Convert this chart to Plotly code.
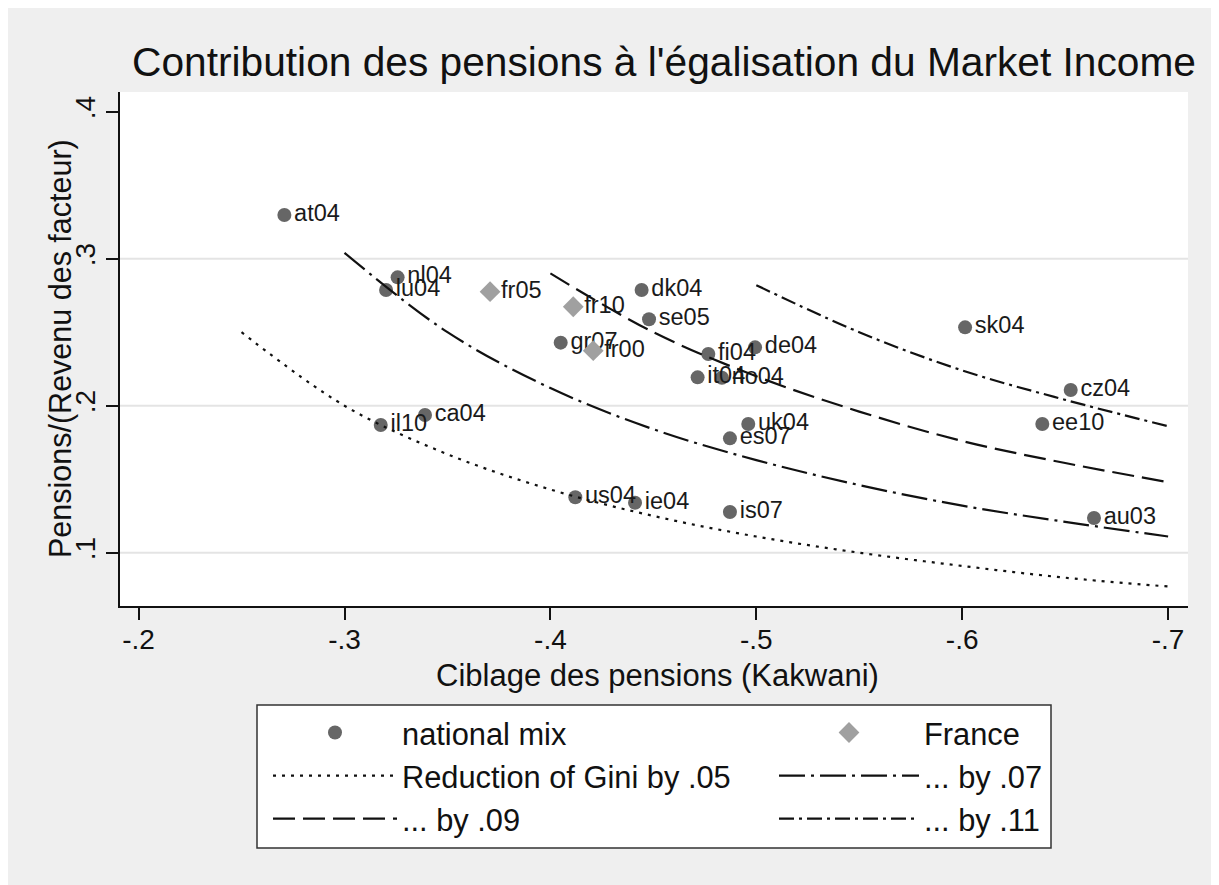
import plotly.graph_objects as go

# ---------------- data ----------------
national_labels = ["at04", "nl04", "lu04", "dk04", "se05", "gr07", "fi04", "de04",
                   "it04", "no04", "uk04", "es07", "is07", "au03", "sk04", "cz04",
                   "ee10", "il10", "ca04", "us04", "ie04"]
national_x = [-0.2708, -0.3258, -0.3202, -0.4443, -0.4479, -0.4050, -0.4767, -0.4994,
              -0.4715, -0.4833, -0.4961, -0.4872, -0.4872, -0.6640, -0.6014, -0.6527,
              -0.6389, -0.3176, -0.3391, -0.4121, -0.4411]
national_y = [0.3297, 0.2873, 0.2787, 0.2787, 0.2588, 0.2429, 0.2352, 0.2397,
              0.2193, 0.2190, 0.1876, 0.1778, 0.1277, 0.1236, 0.2533, 0.2107,
              0.1876, 0.1869, 0.1937, 0.1377, 0.1340]

france_labels = ["fr05", "fr10", "fr00"]
france_x = [-0.3707, -0.4111, -0.4208]
france_y = [0.2776, 0.2673, 0.2374]

# iso-reduction curves
gini05_x = [-0.25, -0.30, -0.35, -0.40, -0.45, -0.50, -0.55, -0.60, -0.65, -0.70]
gini05_y = [0.250, 0.200, 0.167, 0.143, 0.125, 0.111, 0.100, 0.091, 0.083, 0.077]
gini07_x = [-0.30, -0.35, -0.40, -0.45, -0.50, -0.55, -0.60, -0.65, -0.70]
gini07_y = [0.304, 0.250, 0.212, 0.184, 0.163, 0.146, 0.132, 0.121, 0.111]
gini09_x = [-0.40, -0.45, -0.50, -0.55, -0.60, -0.65, -0.70]
gini09_y = [0.290, 0.250, 0.220, 0.196, 0.176, 0.161, 0.148]
gini11_x = [-0.50, -0.55, -0.60, -0.65, -0.70]
gini11_y = [0.282, 0.250, 0.224, 0.204, 0.186]

x_ticks = [-0.2, -0.3, -0.4, -0.5, -0.6, -0.7]
x_ticklabels = ["-.2", "-.3", "-.4", "-.5", "-.6", "-.7"]
y_ticks = [0.1, 0.2, 0.3, 0.4]
y_ticklabels = [".1", ".2", ".3", ".4"]
grid_levels = [0.1, 0.2, 0.3]

# ---------------- figure ----------------
FONT = "Liberation Sans, Arial, sans-serif"
W, H = 1219, 885
OFF = 8  # page body margin
ML, MR, MT, MB = 112, 39, 84, 287
PW, PH = W - ML - MR, H - MT - MB


def fx(page_x):  # page px -> figure px
    return page_x - OFF


def px2paper_x(page_x):
    return (fx(page_x) - ML) / PW


def px2paper_y(page_y):
    return (H - MB - fx(page_y)) / PH


fig = go.Figure()

fig.add_trace(go.Scatter(
    x=national_x, y=national_y, mode="markers+text", text=national_labels,
    textposition="middle right", textfont=dict(size=23.5, color="#1a1a1a", family=FONT),
    marker=dict(symbol="circle", size=14, color="#666666", line=dict(width=0)),
    name="national mix", legend="legend", legendrank=1, cliponaxis=False))

fig.add_trace(go.Scatter(
    x=france_x, y=france_y, mode="markers+text", text=france_labels,
    textposition="middle right", textfont=dict(size=23.5, color="#1a1a1a", family=FONT),
    marker=dict(symbol="diamond", size=16, color="#a0a0a0", line=dict(width=0)),
    name="France", legend="legend2", legendrank=2, cliponaxis=False))

line_w = 2.2
fig.add_trace(go.Scatter(
    x=gini05_x, y=gini05_y, mode="lines", line=dict(color="#111111", width=line_w,
                                                    dash="3px,6px", shape="spline"),
    name="Reduction of Gini by .05", legend="legend", legendrank=3))
fig.add_trace(go.Scatter(
    x=gini07_x, y=gini07_y, mode="lines", line=dict(color="#111111", width=line_w,
                                                    dash="26px,6px,3px,6px", shape="spline"),
    name="... by .07", legend="legend2", legendrank=4))
fig.add_trace(go.Scatter(
    x=gini09_x, y=gini09_y, mode="lines", line=dict(color="#111111", width=line_w,
                                                    dash="22px,8px", shape="spline"),
    name="... by .09", legend="legend", legendrank=5))
fig.add_trace(go.Scatter(
    x=gini11_x, y=gini11_y, mode="lines", line=dict(color="#111111", width=line_w,
                                                    dash="15px,5px,3px,5px", shape="spline"),
    name="... by .11", legend="legend2", legendrank=6))

shapes = []
# horizontal grid lines
for g in grid_levels:
    shapes.append(dict(type="line", xref="paper", yref="y", x0=0, x1=1, y0=g, y1=g,
                       line=dict(color="#e4e4e4", width=2), layer="below"))
# legend box
shapes.append(dict(type="rect", xref="paper", yref="paper",
                   x0=px2paper_x(257), x1=px2paper_x(1051),
                   y0=px2paper_y(848), y1=px2paper_y(705),
                   fillcolor="white", line=dict(color="#333333", width=1.5), layer="below"))

legend_common = dict(
    orientation="v", xref="container", yref="container", xanchor="left", yanchor="top",
    bgcolor="rgba(0,0,0,0)", borderwidth=0,
    font=dict(size=30.8, family=FONT, color="#111111"), traceorder="normal",
    itemclick=False, itemdoubleclick=False)

fig.update_layout(
    width=W, height=H,
    margin=dict(l=ML, r=MR, t=MT, b=MB, pad=0, autoexpand=False),
    paper_bgcolor="#efefef", plot_bgcolor="white",
    font=dict(family=FONT, color="#111111"),
    title=dict(text="Contribution des pensions à l'égalisation du Market Income",
               font=dict(size=40.7, family=FONT, color="#111111"),
               x=fx(664) / W, xanchor="center", xref="container",
               y=1 - fx(62) / H, yanchor="middle", yref="container"),
    showlegend=True,
    legend=dict(x=fx(268) / W, y=1 - 698 / H, itemwidth=124, **legend_common),
    legend2=dict(x=fx(774) / W, y=1 - 698 / H, itemwidth=140, **legend_common),
    xaxis=dict(range=[-0.19097, -0.70966], tickvals=x_ticks, ticktext=x_ticklabels,
               showgrid=False, zeroline=False, showline=True, linecolor="#111111",
               linewidth=1.5, ticks="outside", ticklen=12, tickwidth=1.5,
               ticklabelstandoff=-4,
               tickcolor="#111111", tickfont=dict(size=28, family=FONT, color="#111111")),
    yaxis=dict(range=[0.06374, 0.4134], tickvals=y_ticks, ticktext=y_ticklabels,
               showgrid=False, zeroline=False, showline=True, linecolor="#111111",
               linewidth=1.5, ticks="outside", ticklen=12, tickwidth=1.5, tickangle=-90,
               tickcolor="#111111", tickfont=dict(size=28, family=FONT, color="#111111")),
    shapes=shapes,
    annotations=[
        dict(text="Ciblage des pensions (Kakwani)", xref="paper", yref="paper",
             x=px2paper_x(657), y=px2paper_y(675), xanchor="center", yanchor="middle",
             showarrow=False, font=dict(size=31, family=FONT, color="#111111")),
        dict(text="Pensions/(Revenu des facteur)", xref="paper", yref="paper",
             x=px2paper_x(60), y=px2paper_y(349), xanchor="center", yanchor="middle",
             textangle=-90, showarrow=False,
             font=dict(size=30.5, family=FONT, color="#111111")),
    ],
)

fig.write_html("out.html")
